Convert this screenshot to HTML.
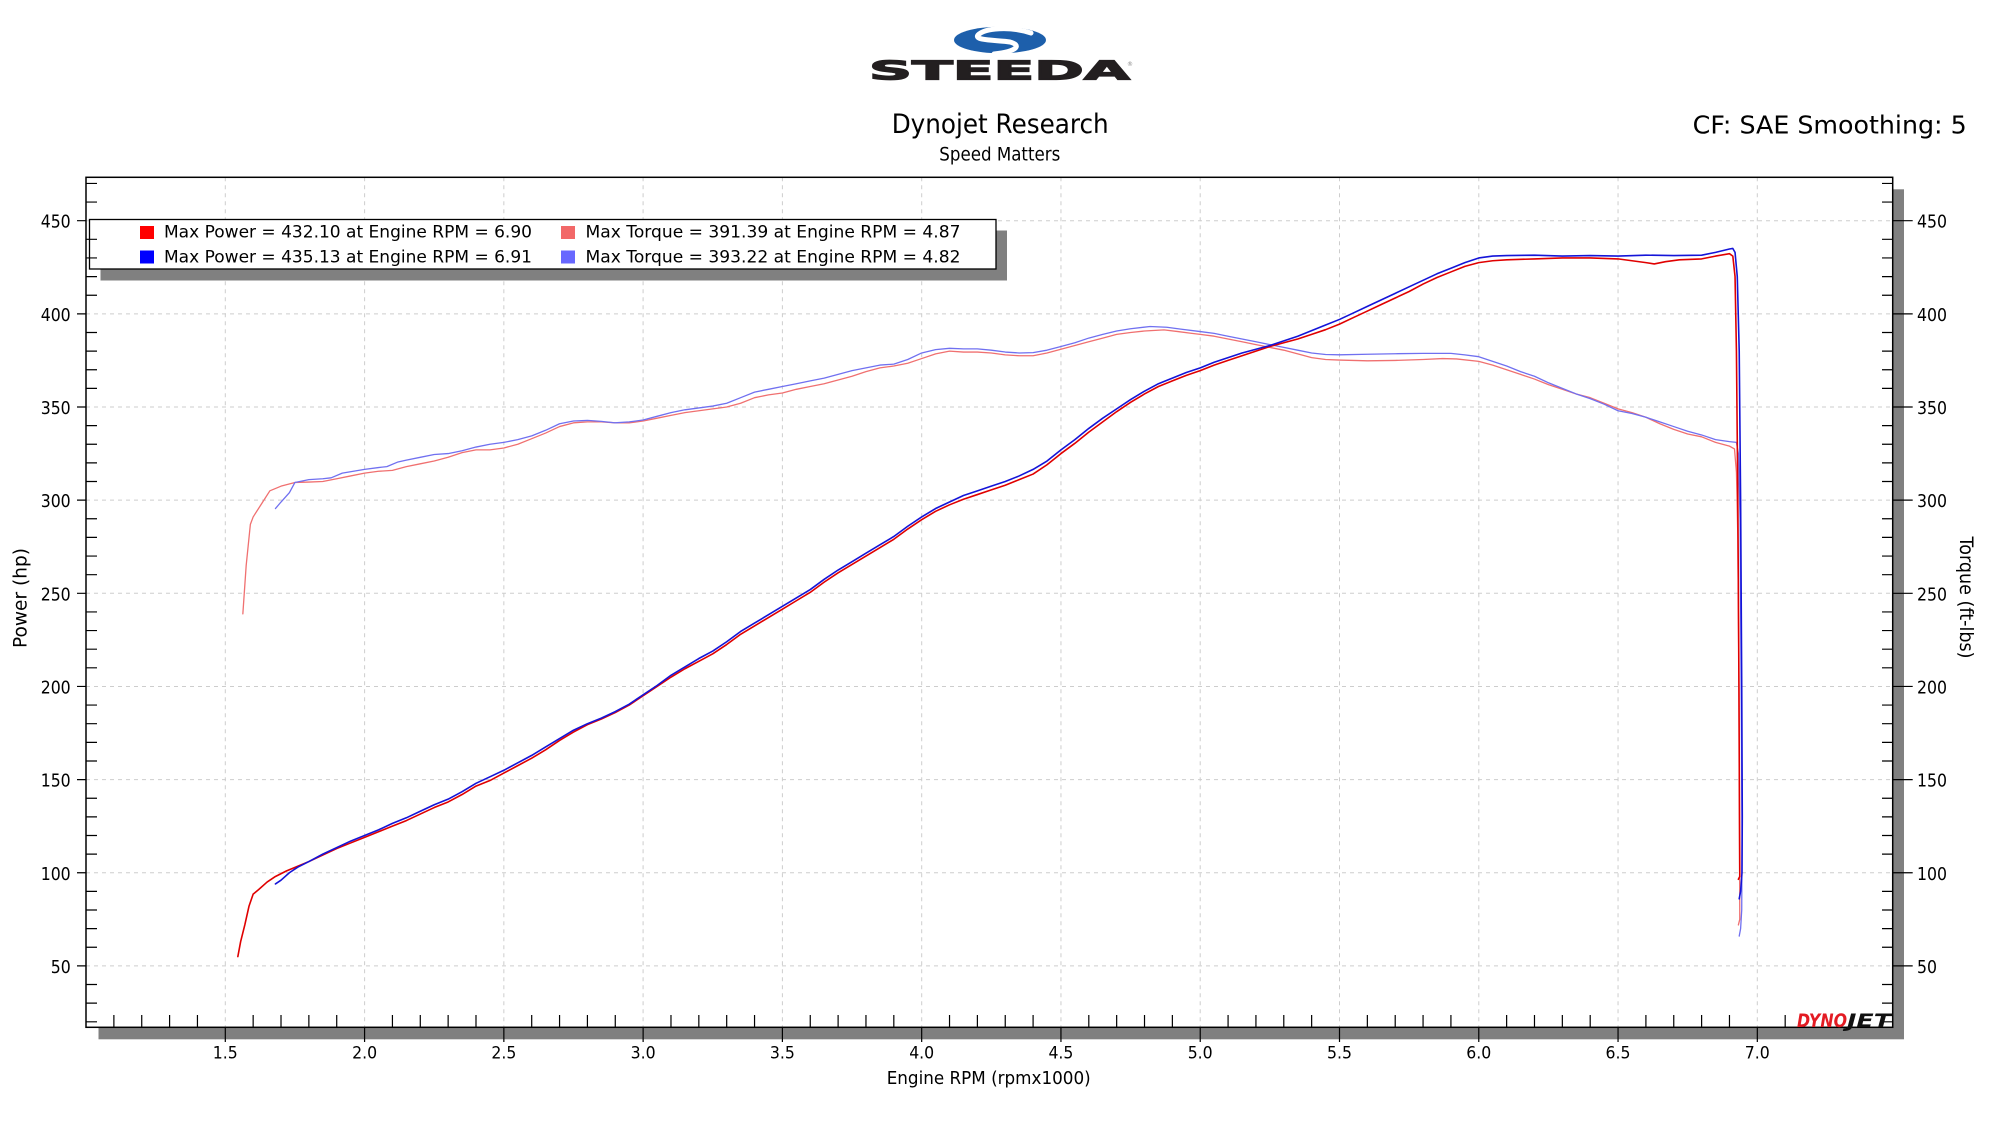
<!DOCTYPE html>
<html>
<head>
<meta charset="utf-8">
<style>
html,body{margin:0;padding:0;background:#fff;}
svg{display:block;}
text{font-family:"DejaVu Sans","Liberation Sans",sans-serif;fill:#000;}
.nss{vector-effect:non-scaling-stroke;}
</style>
</head>
<body>
<svg width="2000" height="1125" viewBox="0 0 2000 1125" xmlns="http://www.w3.org/2000/svg">
<rect x="0" y="0" width="2000" height="1125" fill="#fff"/>

<!-- Steeda logo -->
<ellipse cx="1000" cy="40" rx="46" ry="13.3" fill="#1d5fab"/>
<path d="M1031,33 C1010,26 985,28 978,35 C973,41 1000,40 1010,42 C1021,45 1019,51 994,54" fill="none" stroke="#fff" stroke-width="5" stroke-linecap="round"/>
<text x="869" y="79.3" font-size="26" font-weight="bold" textLength="261" lengthAdjust="spacingAndGlyphs" style="fill:#231f20;stroke:#231f20;stroke-width:1.2">STEEDA</text>
<text x="1127" y="66" font-size="6" style="fill:#888">®</text>

<!-- Titles -->
<text x="891.7" y="133" font-size="27" textLength="217" lengthAdjust="spacingAndGlyphs">Dynojet Research</text>
<text x="939.3" y="160.7" font-size="19" textLength="121" lengthAdjust="spacingAndGlyphs">Speed Matters</text>
<text x="1692.7" y="133.3" font-size="25" textLength="274" lengthAdjust="spacingAndGlyphs">CF: SAE Smoothing: 5</text>

<!-- plot shadow and area -->
<rect x="98.5" y="189.3" width="1805.5" height="850" fill="#808080"/>
<rect x="86" y="177.3" width="1806.7" height="850" fill="#fff"/>

<!-- grid -->
<g stroke="#cdcdcd" stroke-width="1" stroke-dasharray="4,4" fill="none">
<path d="M225.3,177.3V1027.3M364.6,177.3V1027.3M503.85,177.3V1027.3M643.1,177.3V1027.3M782.4,177.3V1027.3M921.7,177.3V1027.3M1060.95,177.3V1027.3M1200.2,177.3V1027.3M1339.5,177.3V1027.3M1478.8,177.3V1027.3M1618.05,177.3V1027.3M1757.3,177.3V1027.3"/>
<path d="M86,220.7H1892.7M86,313.85H1892.7M86,407H1892.7M86,500.15H1892.7M86,593.3H1892.7M86,686.45H1892.7M86,779.6H1892.7M86,872.75H1892.7M86,965.9H1892.7"/>
</g>

<!-- curves -->
<g transform="matrix(278.55 0 0 -1.863 -192.525 1059.05)" fill="none" stroke-linejoin="round" stroke-linecap="round">
<polyline class="nss" stroke="#f07070" stroke-width="1.3" points="1.563,239 1.575,265 1.59,287 1.6,291 1.63,298 1.66,305 1.7,307.5 1.75,309.5 1.8,309.7 1.85,310 1.9,311.5 1.95,313 2.0,314.5 2.05,315.5 2.1,316 2.15,318 2.2,319.5 2.25,321 2.3,323 2.35,325.5 2.4,327 2.45,327 2.5,328 2.55,330 2.6,333 2.65,336 2.7,339.5 2.75,341.5 2.8,342 2.85,342 2.9,341.5 2.95,341.5 3.0,342.5 3.05,344 3.1,345.5 3.15,347 3.2,348 3.25,349 3.3,350 3.35,352 3.4,355 3.45,356.5 3.5,357.5 3.55,359.5 3.6,361 3.65,362.5 3.7,364.5 3.75,366.5 3.8,369 3.85,371 3.9,372 3.95,373.5 4.0,376 4.05,378.5 4.1,380 4.15,379.5 4.2,379.5 4.25,379 4.3,378 4.35,377.5 4.4,377.5 4.45,379 4.5,381 4.55,383 4.6,385 4.65,387 4.7,389 4.75,390 4.8,390.8 4.87,391.4 4.92,390.5 4.97,389.5 5.0,389 5.05,388 5.1,386.5 5.15,385 5.2,383.5 5.25,382 5.3,380.5 5.35,378.5 5.4,376.5 5.45,375.5 5.5,375.2 5.6,374.8 5.7,375 5.8,375.5 5.87,376 5.92,375.8 6.0,374.5 6.05,372.5 6.1,370 6.15,367.5 6.2,365 6.25,362 6.3,359.5 6.35,357 6.4,355 6.45,352 6.5,349 6.55,347 6.6,344.5 6.65,341 6.7,338 6.75,335.5 6.8,334 6.85,331 6.9,329 6.918,327.5 6.925,315 6.93,280 6.934,200 6.936,120 6.937,75 6.932,72"/>
<polyline class="nss" stroke="#7070f0" stroke-width="1.3" points="1.68,295.5 1.7,299 1.73,304 1.75,309.5 1.8,311 1.85,311.5 1.88,312 1.92,314.5 1.96,315.5 2.0,316.5 2.05,317.5 2.08,318 2.12,320.5 2.15,321.5 2.2,323 2.25,324.5 2.3,325 2.35,326.5 2.4,328.5 2.45,330 2.5,331 2.55,332.5 2.6,334.5 2.65,337.5 2.7,341 2.75,342.5 2.8,342.8 2.85,342.3 2.9,341.5 2.95,342 3.0,343 3.05,345 3.1,347 3.15,348.5 3.2,349.5 3.25,350.5 3.3,352 3.35,355 3.4,358 3.45,359.5 3.5,361 3.55,362.5 3.6,364 3.65,365.5 3.7,367.5 3.75,369.5 3.8,371 3.85,372.5 3.9,373 3.95,375.5 4.0,379 4.05,380.8 4.1,381.5 4.15,381.2 4.2,381.2 4.25,380.5 4.3,379.5 4.35,379 4.4,379.2 4.45,380.5 4.5,382.5 4.55,384.5 4.6,387 4.65,389 4.7,390.8 4.75,392 4.82,393.2 4.88,392.8 4.93,391.8 5.0,390.5 5.05,389.5 5.1,388 5.15,386.5 5.2,385 5.25,383.5 5.3,382 5.35,380.5 5.4,379 5.45,378.2 5.5,378 5.6,378.3 5.7,378.6 5.8,378.8 5.9,378.8 5.95,378 6.0,377 6.05,374.5 6.1,372 6.15,369 6.2,366.5 6.25,363 6.3,360 6.35,357 6.4,354.5 6.45,351.5 6.5,348 6.55,346.5 6.6,344.5 6.65,342 6.7,339.5 6.75,337 6.8,335 6.85,332.5 6.9,331.4 6.925,331 6.932,325 6.938,290 6.942,200 6.945,120 6.944,80 6.94,70 6.935,66"/>
<polyline class="nss" stroke="#e00000" stroke-width="1.6" points="1.545,55 1.555,63 1.57,72 1.585,82 1.60,88.5 1.62,91 1.65,95 1.68,98 1.72,101 1.76,103.5 1.8,106 1.85,109.5 1.9,113 1.95,116 2.0,119 2.05,122 2.1,125 2.15,128 2.2,131.5 2.25,135 2.3,138 2.35,142 2.4,146.5 2.45,149.5 2.5,153.5 2.55,157.5 2.6,161.5 2.65,166 2.7,171 2.75,175.5 2.8,179.5 2.85,182.5 2.9,186 2.95,190 3.0,195 3.05,200 3.1,205 3.15,209.5 3.2,213.5 3.25,217.5 3.3,222.5 3.35,228 3.4,232.5 3.45,237 3.5,241.5 3.55,246 3.6,250.5 3.65,256 3.7,261 3.75,265.5 3.8,270 3.85,274.5 3.9,279 3.95,284.5 4.0,289.5 4.05,294 4.1,297.5 4.15,300.5 4.2,303 4.25,305.5 4.3,308 4.35,311 4.4,314 4.45,319 4.5,325 4.55,330.5 4.6,336.5 4.65,342 4.7,347.5 4.75,352.5 4.8,357 4.85,361 4.9,364 4.95,367 5.0,369.5 5.05,372.5 5.1,375 5.15,377.5 5.2,380 5.25,382.5 5.3,384.5 5.35,386.5 5.4,389 5.45,391.5 5.5,394.5 5.55,398 5.6,401.5 5.65,405 5.7,408.5 5.75,412 5.8,416 5.85,419.5 5.9,422.5 5.95,425.5 6.0,427.5 6.05,428.5 6.1,429 6.2,429.5 6.3,430 6.4,430 6.5,429.5 6.55,428.5 6.6,427.5 6.63,426.8 6.67,428 6.72,429 6.8,429.5 6.85,431 6.9,432.3 6.912,431 6.92,420 6.925,380 6.93,300 6.934,200 6.936,130 6.937,98 6.932,96.5"/>
<polyline class="nss" stroke="#1414d8" stroke-width="1.6" points="1.68,94 1.7,96 1.73,100 1.76,103 1.8,106 1.85,110 1.9,113.5 1.95,117 2.0,120 2.05,123 2.1,126.5 2.15,129.5 2.2,133 2.25,136.5 2.3,139.5 2.35,143.5 2.4,148 2.45,151.5 2.5,155 2.55,159 2.6,163 2.65,167.5 2.7,172 2.75,176.5 2.8,180 2.85,183 2.9,186.5 2.95,190.5 3.0,195.5 3.05,200.5 3.1,206 3.15,210.5 3.2,215 3.25,219 3.3,224 3.35,229.5 3.4,234 3.45,238.5 3.5,243 3.55,247.5 3.6,252 3.65,257.5 3.7,262.5 3.75,267 3.8,271.5 3.85,276 3.9,280.5 3.95,286 4.0,291 4.05,295.5 4.1,299 4.15,302.5 4.2,305 4.25,307.5 4.3,310 4.35,313 4.4,316.5 4.45,321 4.5,327 4.55,332.5 4.6,338.5 4.65,344 4.7,349 4.75,354 4.8,358.5 4.85,362.5 4.9,365.5 4.95,368.5 5.0,371 5.05,374 5.1,376.5 5.15,379 5.2,381 5.25,383 5.3,385.5 5.35,388 5.4,391 5.45,394 5.5,397 5.55,400.5 5.6,404 5.65,407.5 5.7,411 5.75,414.5 5.8,418 5.85,421.5 5.9,424.5 5.95,427.5 6.0,430 6.05,431 6.1,431.3 6.2,431.5 6.3,431 6.4,431.3 6.5,431 6.6,431.5 6.7,431.3 6.8,431.5 6.85,433 6.9,434.8 6.912,435.1 6.92,433 6.928,420 6.935,380 6.94,300 6.944,200 6.946,130 6.945,100 6.94,90 6.935,86"/>
</g>

<!-- legend -->
<rect x="100.5" y="230.5" width="906.5" height="50" fill="#808080"/>
<rect x="89.5" y="219.5" width="906.5" height="49.5" fill="#fff" stroke="#000" stroke-width="1.3"/>
<rect x="140" y="226" width="14" height="13" fill="#ff0000"/>
<text x="164" y="237.5" font-size="17" textLength="368" lengthAdjust="spacingAndGlyphs">Max Power = 432.10 at Engine RPM = 6.90</text>
<rect x="561" y="226" width="14" height="13" fill="#f26868"/>
<text x="585.5" y="237.5" font-size="17" textLength="375" lengthAdjust="spacingAndGlyphs">Max Torque = 391.39 at Engine RPM = 4.87</text>
<rect x="140" y="250.5" width="14" height="13" fill="#0000ff"/>
<text x="164" y="262.5" font-size="17" textLength="368" lengthAdjust="spacingAndGlyphs">Max Power = 435.13 at Engine RPM = 6.91</text>
<rect x="561" y="250.5" width="14" height="13" fill="#6868ff"/>
<text x="585.5" y="262.5" font-size="17" textLength="375" lengthAdjust="spacingAndGlyphs">Max Torque = 393.22 at Engine RPM = 4.82</text>

<!-- frame -->
<rect x="86" y="177.3" width="1806.7" height="850" fill="none" stroke="#000" stroke-width="1.5"/>

<!-- left/right ticks -->
<g transform="matrix(1 0 0 -1.863 0 1059.05)" stroke="#000" fill="none">
<path class="nss" stroke-width="1.2" d="M86,20h11M86,30h11M86,40h11M86,60h11M86,70h11M86,80h11M86,90h11M86,110h11M86,120h11M86,130h11M86,140h11M86,160h11M86,170h11M86,180h11M86,190h11M86,210h11M86,220h11M86,230h11M86,240h11M86,260h11M86,270h11M86,280h11M86,290h11M86,310h11M86,320h11M86,330h11M86,340h11M86,360h11M86,370h11M86,380h11M86,390h11M86,410h11M86,420h11M86,430h11M86,440h11M86,460h11M86,470h11"/>
<path class="nss" stroke-width="1.2" d="M77,50h9M77,100h9M77,150h9M77,200h9M77,250h9M77,300h9M77,350h9M77,400h9M77,450h9"/>
<path class="nss" stroke-width="1.2" d="M1882,20h10.7M1882,30h10.7M1882,40h10.7M1882,60h10.7M1882,70h10.7M1882,80h10.7M1882,90h10.7M1882,110h10.7M1882,120h10.7M1882,130h10.7M1882,140h10.7M1882,160h10.7M1882,170h10.7M1882,180h10.7M1882,190h10.7M1882,210h10.7M1882,220h10.7M1882,230h10.7M1882,240h10.7M1882,260h10.7M1882,270h10.7M1882,280h10.7M1882,290h10.7M1882,310h10.7M1882,320h10.7M1882,330h10.7M1882,340h10.7M1882,360h10.7M1882,370h10.7M1882,380h10.7M1882,390h10.7M1882,410h10.7M1882,420h10.7M1882,430h10.7M1882,440h10.7M1882,460h10.7M1882,470h10.7"/>
<path class="nss" stroke-width="1.2" d="M1892.7,50h20M1892.7,100h20M1892.7,150h20M1892.7,200h20M1892.7,250h20M1892.7,300h20M1892.7,350h20M1892.7,400h20M1892.7,450h20"/>
</g>

<!-- bottom ticks -->
<g transform="matrix(278.55 0 0 1 -192.525 0)" stroke="#000" fill="none">
<path class="nss" stroke-width="1.2" d="M1.1,1015V1027.3M1.2,1015V1027.3M1.3,1015V1027.3M1.4,1015V1027.3M1.6,1015V1027.3M1.7,1015V1027.3M1.8,1015V1027.3M1.9,1015V1027.3M2.1,1015V1027.3M2.2,1015V1027.3M2.3,1015V1027.3M2.4,1015V1027.3M2.6,1015V1027.3M2.7,1015V1027.3M2.8,1015V1027.3M2.9,1015V1027.3M3.1,1015V1027.3M3.2,1015V1027.3M3.3,1015V1027.3M3.4,1015V1027.3M3.6,1015V1027.3M3.7,1015V1027.3M3.8,1015V1027.3M3.9,1015V1027.3M4.1,1015V1027.3M4.2,1015V1027.3M4.3,1015V1027.3M4.4,1015V1027.3M4.6,1015V1027.3M4.7,1015V1027.3M4.8,1015V1027.3M4.9,1015V1027.3M5.1,1015V1027.3M5.2,1015V1027.3M5.3,1015V1027.3M5.4,1015V1027.3M5.6,1015V1027.3M5.7,1015V1027.3M5.8,1015V1027.3M5.9,1015V1027.3M6.1,1015V1027.3M6.2,1015V1027.3M6.3,1015V1027.3M6.4,1015V1027.3M6.6,1015V1027.3M6.7,1015V1027.3M6.8,1015V1027.3M6.9,1015V1027.3M7.1,1015V1027.3"/>
<path class="nss" stroke-width="1.2" d="M1.5,1027.3V1042M2,1027.3V1042M2.5,1027.3V1042M3,1027.3V1042M3.5,1027.3V1042M4,1027.3V1042M4.5,1027.3V1042M5,1027.3V1042M5.5,1027.3V1042M6,1027.3V1042M6.5,1027.3V1042M7,1027.3V1042"/>
</g>

<!-- Dynojet logo -->
<text x="1797" y="1027" font-size="19" font-weight="bold" font-style="italic" textLength="50" lengthAdjust="spacingAndGlyphs" style="fill:#e31b23">DYNO</text>
<text x="1847" y="1027" font-size="19" font-weight="bold" font-style="italic" textLength="44" lengthAdjust="spacingAndGlyphs" style="fill:#111">JET</text>

<!-- left tick labels -->
<g font-size="18" text-anchor="end">
<text x="70.7" y="227.7" textLength="30" lengthAdjust="spacingAndGlyphs">450</text>
<text x="70.7" y="320.9" textLength="30" lengthAdjust="spacingAndGlyphs">400</text>
<text x="70.7" y="414" textLength="30" lengthAdjust="spacingAndGlyphs">350</text>
<text x="70.7" y="507.2" textLength="30" lengthAdjust="spacingAndGlyphs">300</text>
<text x="70.7" y="600.3" textLength="30" lengthAdjust="spacingAndGlyphs">250</text>
<text x="70.7" y="693.5" textLength="30" lengthAdjust="spacingAndGlyphs">200</text>
<text x="70.7" y="786.6" textLength="30" lengthAdjust="spacingAndGlyphs">150</text>
<text x="70.7" y="879.8" textLength="30" lengthAdjust="spacingAndGlyphs">100</text>
<text x="70.7" y="972.9" textLength="20" lengthAdjust="spacingAndGlyphs">50</text>
</g>
<!-- right tick labels -->
<g font-size="18">
<text x="1917" y="227.7" textLength="30" lengthAdjust="spacingAndGlyphs">450</text>
<text x="1917" y="320.9" textLength="30" lengthAdjust="spacingAndGlyphs">400</text>
<text x="1917" y="414" textLength="30" lengthAdjust="spacingAndGlyphs">350</text>
<text x="1917" y="507.2" textLength="30" lengthAdjust="spacingAndGlyphs">300</text>
<text x="1917" y="600.3" textLength="30" lengthAdjust="spacingAndGlyphs">250</text>
<text x="1917" y="693.5" textLength="30" lengthAdjust="spacingAndGlyphs">200</text>
<text x="1917" y="786.6" textLength="30" lengthAdjust="spacingAndGlyphs">150</text>
<text x="1917" y="879.8" textLength="30" lengthAdjust="spacingAndGlyphs">100</text>
<text x="1917" y="972.9" textLength="20" lengthAdjust="spacingAndGlyphs">50</text>
</g>
<!-- x tick labels -->
<g font-size="17" text-anchor="middle">
<text x="225.3" y="1058.3" textLength="25" lengthAdjust="spacingAndGlyphs">1.5</text>
<text x="364.6" y="1058.3" textLength="25" lengthAdjust="spacingAndGlyphs">2.0</text>
<text x="503.85" y="1058.3" textLength="25" lengthAdjust="spacingAndGlyphs">2.5</text>
<text x="643.1" y="1058.3" textLength="25" lengthAdjust="spacingAndGlyphs">3.0</text>
<text x="782.4" y="1058.3" textLength="25" lengthAdjust="spacingAndGlyphs">3.5</text>
<text x="921.7" y="1058.3" textLength="25" lengthAdjust="spacingAndGlyphs">4.0</text>
<text x="1060.95" y="1058.3" textLength="25" lengthAdjust="spacingAndGlyphs">4.5</text>
<text x="1200.2" y="1058.3" textLength="25" lengthAdjust="spacingAndGlyphs">5.0</text>
<text x="1339.5" y="1058.3" textLength="25" lengthAdjust="spacingAndGlyphs">5.5</text>
<text x="1478.8" y="1058.3" textLength="25" lengthAdjust="spacingAndGlyphs">6.0</text>
<text x="1618.05" y="1058.3" textLength="25" lengthAdjust="spacingAndGlyphs">6.5</text>
<text x="1757.3" y="1058.3" textLength="25" lengthAdjust="spacingAndGlyphs">7.0</text>
</g>

<!-- axis titles -->
<text x="886.7" y="1084" font-size="18" textLength="204" lengthAdjust="spacingAndGlyphs">Engine RPM (rpmx1000)</text>
<text transform="translate(26.7,598) rotate(-90)" font-size="19" text-anchor="middle" textLength="100" lengthAdjust="spacingAndGlyphs">Power (hp)</text>
<text transform="translate(1960,597.5) rotate(90)" font-size="19" text-anchor="middle" textLength="122" lengthAdjust="spacingAndGlyphs">Torque (ft-lbs)</text>
</svg>
</body>
</html>
